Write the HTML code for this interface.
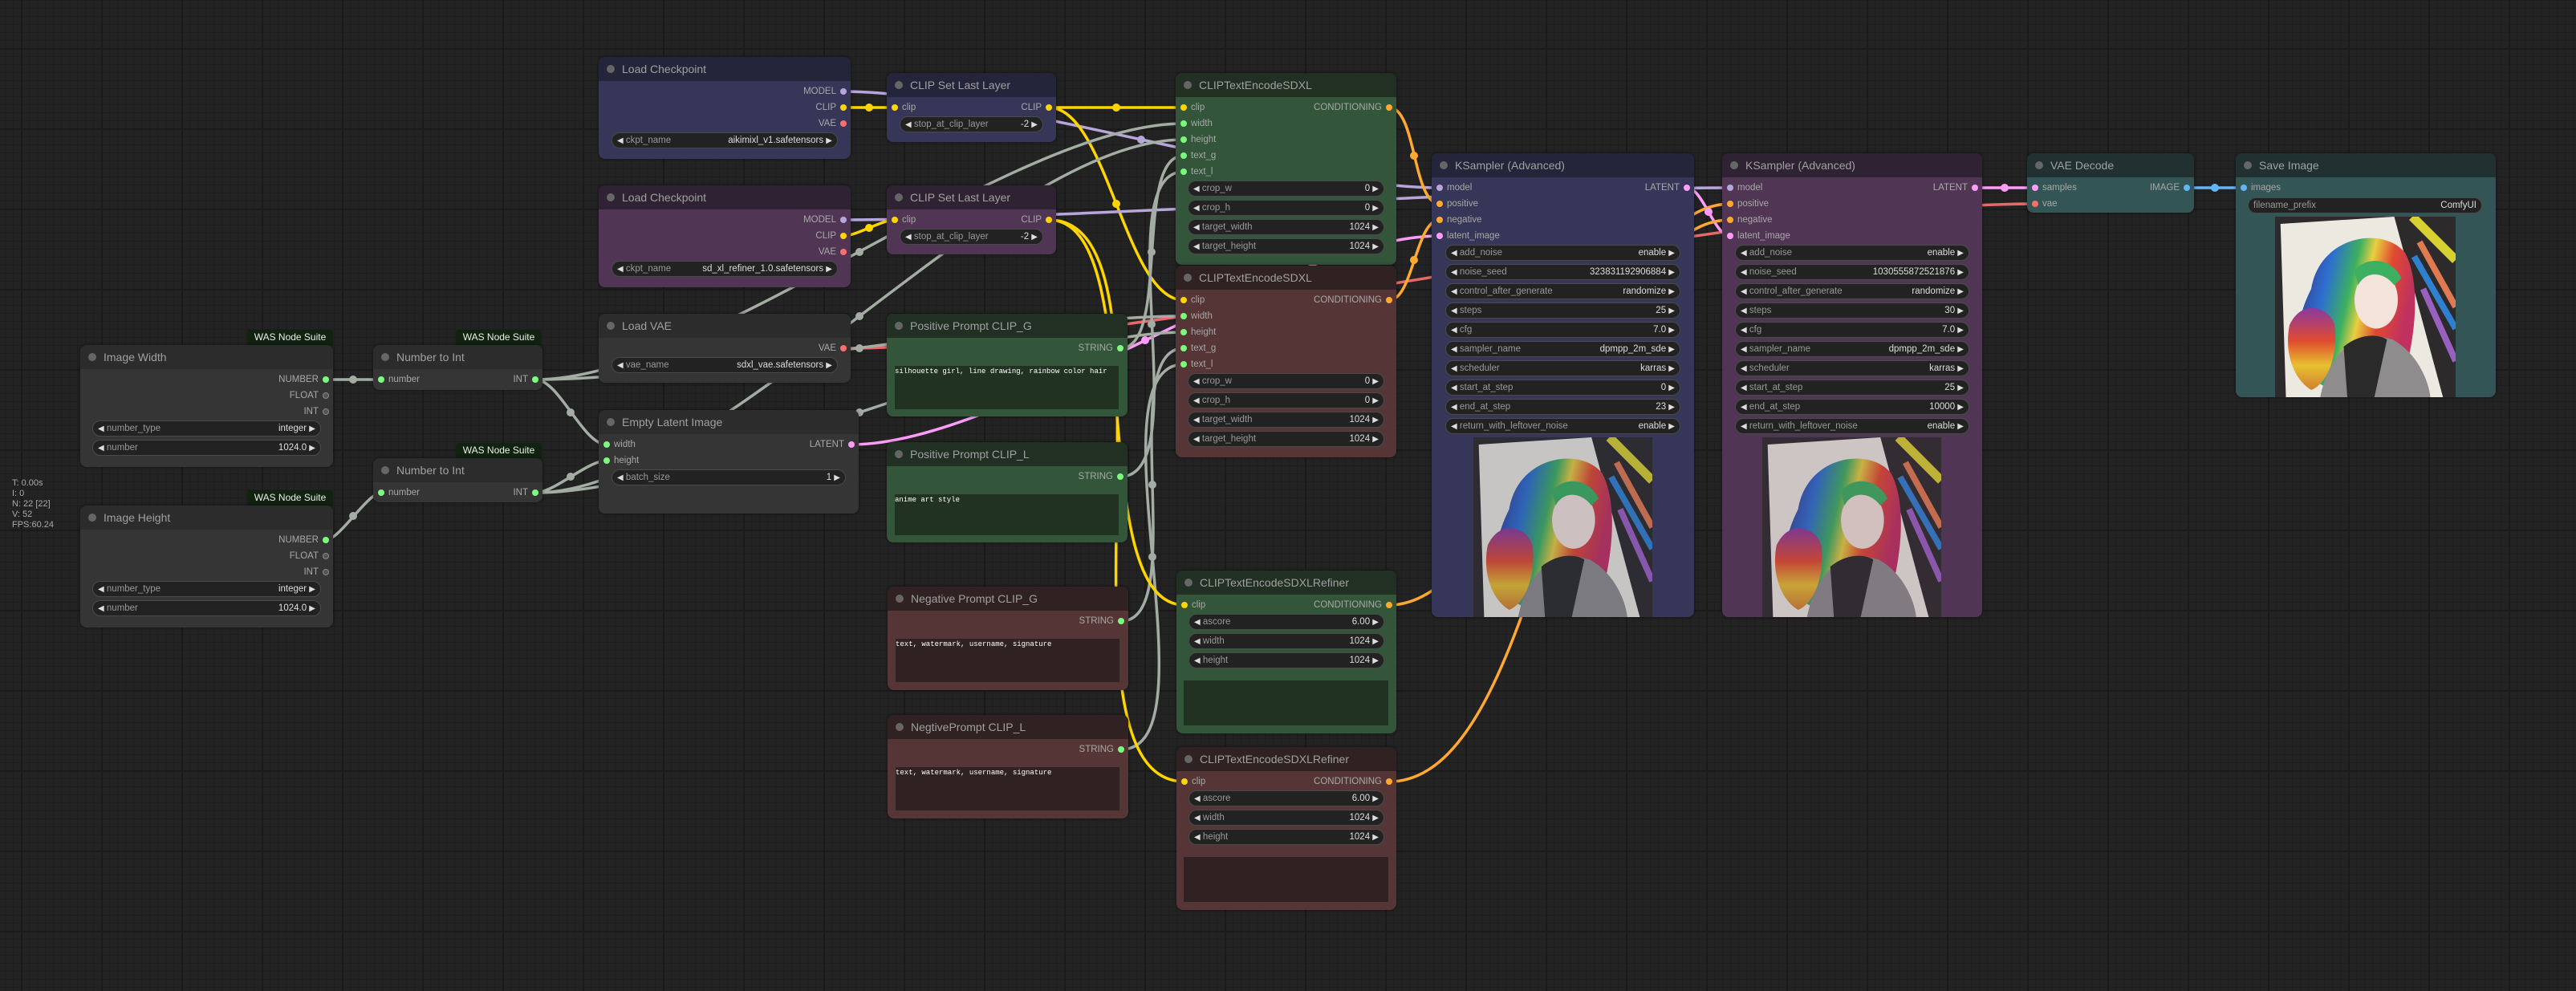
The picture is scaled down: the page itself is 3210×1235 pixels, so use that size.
<!DOCTYPE html>
<html><head><meta charset="utf-8"><style>
*{box-sizing:border-box;margin:0;padding:0}
body{width:3210px;height:1235px;overflow:hidden;position:relative;font-family:"Liberation Sans",Arial,sans-serif;
background-color:#232323;
background-image:linear-gradient(#1a1a1a 2px,transparent 2px),linear-gradient(90deg,#1a1a1a 2px,transparent 2px),linear-gradient(#1e1e1e 1px,transparent 1px),linear-gradient(90deg,#1e1e1e 1px,transparent 1px);
background-size:100px 100px,100px 100px,10px 10px,10px 10px;
background-position:26px 60px,26px 60px,6px 0,6px 0}
svg.wires{position:absolute;left:0;top:0;z-index:1}
.n{position:absolute;border-radius:8px;overflow:hidden;z-index:2;box-shadow:0 0 4px rgba(0,0,0,.5)}
.t{height:30px;line-height:30px;font-size:14px;color:#a0a0a0;padding-left:29px;position:relative;white-space:nowrap}
.t::before{content:"";position:absolute;left:10px;top:10px;width:10px;height:10px;border-radius:50%;background:#666}
.i,.o{position:absolute;height:16px;line-height:16px;font-size:11.5px;color:#a8a8a8;white-space:nowrap}
.i{left:6px;padding-left:13px}
.o{right:5px;padding-right:13px;text-align:right}
.i b,.o b{position:absolute;top:4px;width:8px;height:8px;border-radius:50%}
.i b{left:0}.o b{right:0}
.w{position:absolute;left:15px;right:15px;height:20px;border-radius:10px;background:#222;border:1px solid #4a4a4a;font-size:11.5px;line-height:18px;color:#999;display:flex;justify-content:space-between;padding:0 6px;white-space:nowrap}
.w span:last-child{color:#ddd}
.w span i{font-style:normal;font-size:10px;color:#ddd}
.ta{position:absolute;left:10px;right:11px;top:65px;bottom:9px;font-family:"Liberation Mono",monospace;font-size:9px;color:#fff;padding:2px 0;white-space:nowrap;overflow:hidden}
.blue{background:#363658}.blue .t{background:#24243a}
.purp{background:#513554}.purp .t{background:#2f2333}
.grn{background:#33553a}.grn .t{background:#213022}
.red{background:#553535}.red .t{background:#302222}
.gray{background:#353535}.gray .t{background:#2c2c2c}
.teal{background:#335555}.teal .t{background:#213131}
.grn .ta{background:#213223}.red .ta{background:#302222}
.badge{position:absolute;height:19px;line-height:19px;font-size:12px;color:#e8f0e8;background:#112211;border-radius:4px 4px 0 0;z-index:2;text-align:center;white-space:nowrap}
.stats{position:absolute;left:15px;top:596px;font-size:11px;line-height:13px;color:#aaa;z-index:2}
.img{position:absolute}
</style></head><body>

<svg width="0" height="0" style="position:absolute">
<defs>
<linearGradient id="hair" x1="0" y1="0" x2="1" y2="0.3">
<stop offset="0" stop-color="#3a2a7a"/><stop offset="0.3" stop-color="#2d6fd0"/><stop offset="0.5" stop-color="#3cb060"/><stop offset="0.62" stop-color="#e8d040"/><stop offset="0.78" stop-color="#e04a30"/><stop offset="1" stop-color="#c03060"/>
</linearGradient>
<linearGradient id="hair2" x1="0" y1="0" x2="0" y2="1">
<stop offset="0" stop-color="#8a3aa0"/><stop offset="0.4" stop-color="#e04a30"/><stop offset="0.7" stop-color="#e8c030"/><stop offset="1" stop-color="#d08030"/>
</linearGradient>
<symbol id="girl" viewBox="0 0 100 100" preserveAspectRatio="none">
<rect width="100" height="100" fill="#2c2a2a"/>
<polygon points="3,4 66,0 93,100 6,100" fill="#ebe9e0"/>
<line x1="76" y1="0" x2="100" y2="24" stroke="#d8d030" stroke-width="5"/>
<line x1="80" y1="14" x2="100" y2="50" stroke="#e07a50" stroke-width="3.5"/>
<line x1="77" y1="22" x2="100" y2="62" stroke="#2f80d0" stroke-width="3.5"/>
<line x1="82" y1="40" x2="100" y2="80" stroke="#9a60c0" stroke-width="3.5"/>
<path d="M20,40 C25,10 60,5 72,20 C80,35 78,60 74,78 L45,70 L30,95 C15,90 5,70 20,40Z" fill="url(#hair)"/>
<path d="M8,60 C15,45 30,50 33,60 C35,75 30,92 20,96 C10,90 5,75 8,60Z" fill="url(#hair2)"/>
<ellipse cx="56" cy="46" rx="12" ry="16" fill="#f3e3da"/>
<path d="M44,30 C50,22 64,22 70,34 L66,38 C60,30 50,30 46,38Z" fill="#3cb060"/>
<path d="M25,100 C30,75 45,62 65,68 C78,75 85,90 86,100Z" fill="#8e8c8c"/>
<path d="M38,72 C45,66 55,64 62,68 L55,100 L40,100Z" fill="#2a2a2a"/>
</symbol>
</defs></svg>

<svg class="wires" width="3210" height="1235" fill="none" stroke-linecap="round">
<g stroke-width="3.5">
<path stroke="#b7a6dc" d="M1051 114 C1239 114 1606 234 1794 234"/>
<path stroke="#ffd500" d="M1051 134 C1067 134 1099 134 1115 134"/>
<path stroke="#ffd500" d="M1307 134 C1349 134 1433 134 1475 134"/>
<path stroke="#ffd500" d="M1307 134 C1380 134 1402 374 1475 374"/>
<path stroke="#b7a6dc" d="M1051 274 C1327 274 1880 234 2156 234"/>
<path stroke="#ffd500" d="M1051 294 C1067 294 1099 274 1115 274"/>
<path stroke="#e86868" d="M1051 434 C1425 434 2162 254 2536 254"/>
<path stroke="#ff9cf9" d="M1061 554 C1255 554 1600 294 1794 294"/>
<path stroke="#ff9cf9" d="M2102 234 C2122 234 2136 294 2156 294"/>
<path stroke="#ff9cf9" d="M2461 234 C2480 234 2517 234 2536 234"/>
<path stroke="#64b5f6" d="M2725 234 C2743 234 2778 234 2796 234"/>
<path stroke="#ffa931" d="M1731 134 C1765 134 1760 254 1794 254"/>
<path stroke="#ffa931" d="M1731 374 C1761 374 1764 274 1794 274"/>
<path stroke="#ffa931" d="M1731 754 C1895 754 1992 254 2156 254"/>
<path stroke="#ffa931" d="M1731 974 C1936 974 1951 274 2156 274"/>
<path stroke="#a3ada3" d="M1396 434 C1459 434 1412 194 1475 194"/>
<path stroke="#a3ada3" d="M1396 594 C1493 594 1378 214 1475 214"/>
<path stroke="#a3ada3" d="M1397 774 C1484 774 1388 434 1475 434"/>
<path stroke="#a3ada3" d="M1397 934 C1518 934 1354 454 1475 454"/>
<path stroke="#a3ada3" d="M667 473 C884 473 1258 154 1475 154"/>
<path stroke="#a3ada3" d="M667 473 C870 473 1272 394 1475 394"/>
<path stroke="#a3ada3" d="M667 473 C697 473 726 554 756 554"/>
<path stroke="#a3ada3" d="M667 614 C897 614 1245 174 1475 174"/>
<path stroke="#a3ada3" d="M667 614 C875 614 1267 414 1475 414"/>
<path stroke="#a3ada3" d="M667 614 C691 614 732 574 756 574"/>
<path stroke="#a3ada3" d="M406 473 C423 473 458 473 475 473"/>
<path stroke="#a3ada3" d="M406 673 C423 673 458 614 475 614"/>
<path stroke="#ffd500" d="M1307 274 C1434 274 1349 754 1476 754"/>
<path stroke="#ffd500" d="M1307 274 C1487 274 1296 974 1476 974"/>
</g>
<g>
<circle cx="1422" cy="174" r="5" fill="#b7a6dc"/><circle cx="1083" cy="134" r="5" fill="#ffd500"/>
<circle cx="1391" cy="134" r="5" fill="#ffd500"/><circle cx="1391" cy="254" r="5" fill="#ffd500"/>
<circle cx="1603" cy="254" r="5" fill="#b7a6dc"/><circle cx="1083" cy="284" r="5" fill="#ffd500"/>
<circle cx="1793" cy="344" r="5" fill="#e86868"/><circle cx="1427" cy="424" r="5" fill="#ff9cf9"/>
<circle cx="2129" cy="264" r="5" fill="#ff9cf9"/><circle cx="2498" cy="234" r="5" fill="#ff9cf9"/>
<circle cx="2760" cy="234" r="5" fill="#64b5f6"/><circle cx="1762" cy="194" r="5" fill="#ffa931"/>
<circle cx="1762" cy="324" r="5" fill="#ffa931"/><circle cx="1943" cy="504" r="5" fill="#ffa931"/>
<circle cx="1943" cy="624" r="5" fill="#ffa931"/><circle cx="1435" cy="314" r="5" fill="#a3ada3"/>
<circle cx="1435" cy="404" r="5" fill="#a3ada3"/><circle cx="1436" cy="604" r="5" fill="#a3ada3"/>
<circle cx="1436" cy="694" r="5" fill="#a3ada3"/><circle cx="1071" cy="314" r="5" fill="#a3ada3"/>
<circle cx="1071" cy="434" r="5" fill="#a3ada3"/><circle cx="711" cy="514" r="5" fill="#a3ada3"/>
<circle cx="1071" cy="394" r="5" fill="#a3ada3"/><circle cx="1071" cy="514" r="5" fill="#a3ada3"/>
<circle cx="711" cy="594" r="5" fill="#a3ada3"/><circle cx="440" cy="473" r="5" fill="#a3ada3"/>
<circle cx="440" cy="643" r="5" fill="#a3ada3"/><circle cx="1391" cy="514" r="5" fill="#ffd500"/>
<circle cx="1391" cy="624" r="5" fill="#ffd500"/>
</g>
</svg>

<div class="stats">T: 0.00s<br>I: 0<br>N: 22 [22]<br>V: 52<br>FPS:60.24</div>

<div class="badge" style="left:308px;top:411px;width:107px">WAS Node Suite</div>
<div class="badge" style="left:568px;top:411px;width:107px">WAS Node Suite</div>
<div class="badge" style="left:568px;top:552px;width:107px">WAS Node Suite</div>
<div class="badge" style="left:308px;top:611px;width:107px">WAS Node Suite</div>

<div class="n gray" style="left:100px;top:430px;width:315px;height:152px"><div class="t">Image Width</div>
<div class="o" style="top:35px">NUMBER<b style="background:#7cfc7c"></b></div>
<div class="o" style="top:55px">FLOAT<b style="background:#555;border:1px solid #888"></b></div>
<div class="o" style="top:75px">INT<b style="background:#555;border:1px solid #888"></b></div>
<div class="w" style="top:94px"><span><i>◀</i> number_type</span><span>integer <i>▶</i></span></div>
<div class="w" style="top:118px"><span><i>◀</i> number</span><span>1024.0 <i>▶</i></span></div>
</div>
<div class="n gray" style="left:100px;top:630px;width:315px;height:152px"><div class="t">Image Height</div>
<div class="o" style="top:35px">NUMBER<b style="background:#7cfc7c"></b></div>
<div class="o" style="top:55px">FLOAT<b style="background:#555;border:1px solid #888"></b></div>
<div class="o" style="top:75px">INT<b style="background:#555;border:1px solid #888"></b></div>
<div class="w" style="top:94px"><span><i>◀</i> number_type</span><span>integer <i>▶</i></span></div>
<div class="w" style="top:118px"><span><i>◀</i> number</span><span>1024.0 <i>▶</i></span></div>
</div>
<div class="n gray" style="left:465px;top:430px;width:211px;height:56px"><div class="t">Number to Int</div>
<div class="i" style="top:35px"><b style="background:#7cfc7c"></b>number</div>
<div class="o" style="top:35px">INT<b style="background:#7cfc7c"></b></div></div>
<div class="n gray" style="left:465px;top:571px;width:211px;height:55px"><div class="t">Number to Int</div>
<div class="i" style="top:35px"><b style="background:#7cfc7c"></b>number</div>
<div class="o" style="top:35px">INT<b style="background:#7cfc7c"></b></div></div>

<div class="n blue" style="left:746px;top:71px;width:314px;height:127px"><div class="t">Load Checkpoint</div>
<div class="o" style="top:35px">MODEL<b style="background:#b7a6dc"></b></div>
<div class="o" style="top:55px">CLIP<b style="background:#ffd500"></b></div>
<div class="o" style="top:75px">VAE<b style="background:#ff6e6e"></b></div>
<div class="w" style="top:94px;left:16px;right:16px"><span><i>◀</i> ckpt_name</span><span>aikimixl_v1.safetensors <i>▶</i></span></div></div>
<div class="n purp" style="left:746px;top:231px;width:314px;height:127px"><div class="t">Load Checkpoint</div>
<div class="o" style="top:35px">MODEL<b style="background:#b7a6dc"></b></div>
<div class="o" style="top:55px">CLIP<b style="background:#ffd500"></b></div>
<div class="o" style="top:75px">VAE<b style="background:#ff6e6e"></b></div>
<div class="w" style="top:94px;left:16px;right:16px"><span><i>◀</i> ckpt_name</span><span>sd_xl_refiner_1.0.safetensors <i>▶</i></span></div></div>
<div class="n gray" style="left:746px;top:391px;width:314px;height:86px"><div class="t">Load VAE</div>
<div class="o" style="top:35px">VAE<b style="background:#ff6e6e"></b></div>
<div class="w" style="top:54px;left:16px;right:16px"><span><i>◀</i> vae_name</span><span>sdxl_vae.safetensors <i>▶</i></span></div></div>
<div class="n gray" style="left:746px;top:511px;width:324px;height:129px"><div class="t">Empty Latent Image</div>
<div class="i" style="top:35px"><b style="background:#7cfc7c"></b>width</div>
<div class="i" style="top:55px"><b style="background:#7cfc7c"></b>height</div>
<div class="o" style="top:35px">LATENT<b style="background:#ff9cf9"></b></div>
<div class="w" style="top:74px;left:16px;right:16px"><span><i>◀</i> batch_size</span><span>1 <i>▶</i></span></div></div>

<div class="n blue" style="left:1105px;top:91px;width:211px;height:86px"><div class="t">CLIP Set Last Layer</div>
<div class="i" style="top:35px"><b style="background:#ffd500"></b>clip</div>
<div class="o" style="top:35px">CLIP<b style="background:#ffd500"></b></div>
<div class="w" style="top:54px;left:16px;right:16px"><span><i>◀</i> stop_at_clip_layer</span><span>-2 <i>▶</i></span></div></div>
<div class="n purp" style="left:1105px;top:231px;width:211px;height:86px"><div class="t">CLIP Set Last Layer</div>
<div class="i" style="top:35px"><b style="background:#ffd500"></b>clip</div>
<div class="o" style="top:35px">CLIP<b style="background:#ffd500"></b></div>
<div class="w" style="top:54px;left:16px;right:16px"><span><i>◀</i> stop_at_clip_layer</span><span>-2 <i>▶</i></span></div></div>

<div class="n grn" style="left:1105px;top:391px;width:300px;height:128px"><div class="t">Positive Prompt CLIP_G</div>
<div class="o" style="top:35px">STRING<b style="background:#7cfc7c"></b></div>
<div class="ta">silhouette girl, line drawing, rainbow color hair</div></div>
<div class="n grn" style="left:1105px;top:551px;width:300px;height:125px"><div class="t">Positive Prompt CLIP_L</div>
<div class="o" style="top:35px">STRING<b style="background:#7cfc7c"></b></div>
<div class="ta">anime art style</div></div>
<div class="n red" style="left:1106px;top:731px;width:300px;height:129px"><div class="t">Negative Prompt CLIP_G</div>
<div class="o" style="top:35px">STRING<b style="background:#7cfc7c"></b></div>
<div class="ta" style="bottom:10px">text, watermark, username, signature</div></div>
<div class="n red" style="left:1106px;top:891px;width:300px;height:129px"><div class="t">NegtivePrompt CLIP_L</div>
<div class="o" style="top:35px">STRING<b style="background:#7cfc7c"></b></div>
<div class="ta" style="bottom:10px">text, watermark, username, signature</div></div>

<div class="n grn" style="left:1465px;top:91px;width:275px;height:239px"><div class="t">CLIPTextEncodeSDXL</div>
<div class="i" style="top:35px"><b style="background:#ffd500"></b>clip</div>
<div class="i" style="top:55px"><b style="background:#7cfc7c"></b>width</div>
<div class="i" style="top:75px"><b style="background:#7cfc7c"></b>height</div>
<div class="i" style="top:95px"><b style="background:#7cfc7c"></b>text_g</div>
<div class="i" style="top:115px"><b style="background:#7cfc7c"></b>text_l</div>
<div class="o" style="top:35px">CONDITIONING<b style="background:#ffa931"></b></div>
<div class="w" style="top:134px"><span><i>◀</i> crop_w</span><span>0 <i>▶</i></span></div>
<div class="w" style="top:158px"><span><i>◀</i> crop_h</span><span>0 <i>▶</i></span></div>
<div class="w" style="top:182px"><span><i>◀</i> target_width</span><span>1024 <i>▶</i></span></div>
<div class="w" style="top:206px"><span><i>◀</i> target_height</span><span>1024 <i>▶</i></span></div></div>
<div class="n red" style="left:1465px;top:331px;width:275px;height:239px"><div class="t">CLIPTextEncodeSDXL</div>
<div class="i" style="top:35px"><b style="background:#ffd500"></b>clip</div>
<div class="i" style="top:55px"><b style="background:#7cfc7c"></b>width</div>
<div class="i" style="top:75px"><b style="background:#7cfc7c"></b>height</div>
<div class="i" style="top:95px"><b style="background:#7cfc7c"></b>text_g</div>
<div class="i" style="top:115px"><b style="background:#7cfc7c"></b>text_l</div>
<div class="o" style="top:35px">CONDITIONING<b style="background:#ffa931"></b></div>
<div class="w" style="top:134px"><span><i>◀</i> crop_w</span><span>0 <i>▶</i></span></div>
<div class="w" style="top:158px"><span><i>◀</i> crop_h</span><span>0 <i>▶</i></span></div>
<div class="w" style="top:182px"><span><i>◀</i> target_width</span><span>1024 <i>▶</i></span></div>
<div class="w" style="top:206px"><span><i>◀</i> target_height</span><span>1024 <i>▶</i></span></div></div>

<div class="n grn" style="left:1466px;top:711px;width:274px;height:203px"><div class="t">CLIPTextEncodeSDXLRefiner</div>
<div class="i" style="top:35px"><b style="background:#ffd500"></b>clip</div>
<div class="o" style="top:35px">CONDITIONING<b style="background:#ffa931"></b></div>
<div class="w" style="top:54px"><span><i>◀</i> ascore</span><span>6.00 <i>▶</i></span></div>
<div class="w" style="top:78px"><span><i>◀</i> width</span><span>1024 <i>▶</i></span></div>
<div class="w" style="top:102px"><span><i>◀</i> height</span><span>1024 <i>▶</i></span></div>
<div class="ta" style="top:137px;left:9px;right:10px;bottom:10px"></div></div>
<div class="n red" style="left:1466px;top:931px;width:274px;height:203px"><div class="t">CLIPTextEncodeSDXLRefiner</div>
<div class="i" style="top:35px"><b style="background:#ffd500"></b>clip</div>
<div class="o" style="top:35px">CONDITIONING<b style="background:#ffa931"></b></div>
<div class="w" style="top:54px"><span><i>◀</i> ascore</span><span>6.00 <i>▶</i></span></div>
<div class="w" style="top:78px"><span><i>◀</i> width</span><span>1024 <i>▶</i></span></div>
<div class="w" style="top:102px"><span><i>◀</i> height</span><span>1024 <i>▶</i></span></div>
<div class="ta" style="top:137px;left:9px;right:10px;bottom:10px"></div></div>

<div class="n blue" style="left:1784px;top:191px;width:327px;height:578px"><div class="t">KSampler (Advanced)</div>
<div class="i" style="top:35px"><b style="background:#b7a6dc"></b>model</div>
<div class="i" style="top:55px"><b style="background:#ffa931"></b>positive</div>
<div class="i" style="top:75px"><b style="background:#ffa931"></b>negative</div>
<div class="i" style="top:95px"><b style="background:#ff9cf9"></b>latent_image</div>
<div class="o" style="top:35px">LATENT<b style="background:#ff9cf9"></b></div>
<div class="w" style="top:114px;left:17px;right:17px"><span><i>◀</i> add_noise</span><span>enable <i>▶</i></span></div>
<div class="w" style="top:138px;left:17px;right:17px"><span><i>◀</i> noise_seed</span><span>323831192906884 <i>▶</i></span></div>
<div class="w" style="top:162px;left:17px;right:17px"><span><i>◀</i> control_after_generate</span><span>randomize <i>▶</i></span></div>
<div class="w" style="top:186px;left:17px;right:17px"><span><i>◀</i> steps</span><span>25 <i>▶</i></span></div>
<div class="w" style="top:210px;left:17px;right:17px"><span><i>◀</i> cfg</span><span>7.0 <i>▶</i></span></div>
<div class="w" style="top:234px;left:17px;right:17px"><span><i>◀</i> sampler_name</span><span>dpmpp_2m_sde <i>▶</i></span></div>
<div class="w" style="top:258px;left:17px;right:17px"><span><i>◀</i> scheduler</span><span>karras <i>▶</i></span></div>
<div class="w" style="top:282px;left:17px;right:17px"><span><i>◀</i> start_at_step</span><span>0 <i>▶</i></span></div>
<div class="w" style="top:306px;left:17px;right:17px"><span><i>◀</i> end_at_step</span><span>23 <i>▶</i></span></div>
<div class="w" style="top:330px;left:17px;right:17px"><span><i>◀</i> return_with_leftover_noise</span><span>enable <i>▶</i></span></div>
<svg class="img" style="left:52px;top:354px" width="223" height="224"><use href="#girl" width="223" height="224" opacity="0.8"/></svg>
</div>
<div class="n purp" style="left:2146px;top:191px;width:324px;height:578px"><div class="t">KSampler (Advanced)</div>
<div class="i" style="top:35px"><b style="background:#b7a6dc"></b>model</div>
<div class="i" style="top:55px"><b style="background:#ffa931"></b>positive</div>
<div class="i" style="top:75px"><b style="background:#ffa931"></b>negative</div>
<div class="i" style="top:95px"><b style="background:#ff9cf9"></b>latent_image</div>
<div class="o" style="top:35px">LATENT<b style="background:#ff9cf9"></b></div>
<div class="w" style="top:114px;left:16px;right:16px"><span><i>◀</i> add_noise</span><span>enable <i>▶</i></span></div>
<div class="w" style="top:138px;left:16px;right:16px"><span><i>◀</i> noise_seed</span><span>1030555872521876 <i>▶</i></span></div>
<div class="w" style="top:162px;left:16px;right:16px"><span><i>◀</i> control_after_generate</span><span>randomize <i>▶</i></span></div>
<div class="w" style="top:186px;left:16px;right:16px"><span><i>◀</i> steps</span><span>30 <i>▶</i></span></div>
<div class="w" style="top:210px;left:16px;right:16px"><span><i>◀</i> cfg</span><span>7.0 <i>▶</i></span></div>
<div class="w" style="top:234px;left:16px;right:16px"><span><i>◀</i> sampler_name</span><span>dpmpp_2m_sde <i>▶</i></span></div>
<div class="w" style="top:258px;left:16px;right:16px"><span><i>◀</i> scheduler</span><span>karras <i>▶</i></span></div>
<div class="w" style="top:282px;left:16px;right:16px"><span><i>◀</i> start_at_step</span><span>25 <i>▶</i></span></div>
<div class="w" style="top:306px;left:16px;right:16px"><span><i>◀</i> end_at_step</span><span>10000 <i>▶</i></span></div>
<div class="w" style="top:330px;left:16px;right:16px"><span><i>◀</i> return_with_leftover_noise</span><span>enable <i>▶</i></span></div>
<svg class="img" style="left:50px;top:354px" width="223" height="224"><use href="#girl" width="223" height="224" opacity="0.8"/></svg>
</div>
<div class="n teal" style="left:2526px;top:191px;width:208px;height:74px"><div class="t">VAE Decode</div>
<div class="i" style="top:35px"><b style="background:#ff9cf9"></b>samples</div>
<div class="i" style="top:55px"><b style="background:#ff6e6e"></b>vae</div>
<div class="o" style="top:35px">IMAGE<b style="background:#64b5f6"></b></div></div>
<div class="n teal" style="left:2786px;top:191px;width:324px;height:304px"><div class="t">Save Image</div>
<div class="i" style="top:35px"><b style="background:#64b5f6"></b>images</div>
<div class="w" style="top:55px;left:15px;right:17px"><span>filename_prefix</span><span>ComfyUI</span></div>
<svg class="img" style="left:49px;top:79px" width="225" height="225"><use href="#girl" width="225" height="225"/></svg>
</div>
</body></html>
